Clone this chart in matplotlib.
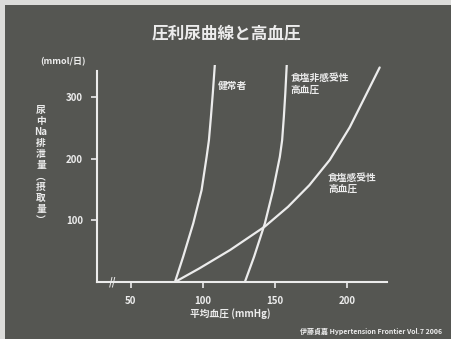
import matplotlib.pyplot as plt
from matplotlib.patches import Rectangle

plt.rcParams['font.family'] = ['Noto Sans CJK JP', 'DejaVu Sans']

# mean blood pressure (mmHg) vs urinary Na excretion (mmol/day)
y_vals = [0, 41, 95, 149, 203, 230, 268, 306, 352]
normal_x = [80.6, 86.3, 93.3, 99.1, 102.6, 104.2, 105.6, 106.9, 108.3]
insens_x = [129.2, 135.6, 143.1, 148.8, 153.5, 155.1, 156.3, 157.3, 158.3]
sens_x = [80.6, 97.5, 119.0, 143.1, 159.2, 174.0, 188.2, 202.1, 213.9, 222.9]
sens_y = [0, 22, 52, 90, 122, 157, 198, 251, 306, 348]

xticks = [50, 100, 150, 200]
yticks = [100, 200, 300]

bg = '#555652'
fg = '#ececec'

fig = plt.figure(figsize=(4.51, 3.39), dpi=100)
fig.patch.set_facecolor('#dcdcda')
fig.patches.append(Rectangle((5/451, 0), 446/451, 1-5/339, transform=fig.transFigure,
                             facecolor=bg, edgecolor='none', zorder=-10))

ax = fig.add_axes([97/451, 1-282/339, 290/451, 217/339])
ax.set_facecolor('none')
ax.set_xlim(26.4, 228)
ax.set_ylim(0, 352)

lw = 1.6
ax.plot(normal_x, y_vals, color=fg, lw=lw, solid_capstyle='round', solid_joinstyle='round')
ax.plot(insens_x, y_vals, color=fg, lw=lw, solid_capstyle='round', solid_joinstyle='round')
ax.plot(sens_x, sens_y, color=fg, lw=lw, solid_capstyle='round', solid_joinstyle='round')

for s in ['top', 'right']:
    ax.spines[s].set_visible(False)
for s in ['left', 'bottom']:
    ax.spines[s].set_color(fg)
    ax.spines[s].set_linewidth(1.5)
ax.spines['left'].set_bounds(0, 343)

ax.set_xticks(xticks)
ax.set_yticks(yticks)
ax.tick_params(colors=fg, labelsize=7, length=4, width=1.2, pad=6)
for lab in ax.get_xticklabels() + ax.get_yticklabels():
    lab.set_fontweight('bold')

# axis break mark
ax.text(37.5, 0, '//', color=fg, fontsize=7, ha='center', va='center',
        fontweight='bold', clip_on=False)

ax.text(119, -52, '平均血圧 (mmHg)', color=fg, fontsize=7, fontweight='bold',
        ha='center', va='center', clip_on=False)

fig.text(226/451, 1-33/339, '圧利尿曲線と高血圧', color=fg, fontsize=12,
         fontweight='bold', ha='center', va='center')
fig.text(63/451, 1-62/339, '(mmol/日)', color=fg, fontsize=6.5, fontweight='bold',
         ha='center', va='center')
ylab = '\n'.join(['尿', '中', 'Na', '排', '泄', '量', '︵', '摂', '取', '量', '︶'])
fig.text(41/451, 1-165/339, ylab, color=fg, fontsize=7, fontweight='bold',
         ha='center', va='center', linespacing=1.12)

ax.text(110.5, 318, '健常者', color=fg, fontsize=7, fontweight='bold', va='center')
ax.text(161, 322, '食塩非感受性\n高血圧', color=fg, fontsize=7, fontweight='bold',
        va='center', linespacing=1.2)
ax.text(187, 160, '食塩感受性\n高血圧', color=fg, fontsize=7, fontweight='bold',
        va='center', linespacing=1.2)

fig.text(442/451, 1-331/339, '伊藤貞嘉 Hypertension Frontier Vol.7 2006', color=fg,
         fontsize=5, fontweight='bold', ha='right', va='center')

fig.savefig('out.png', dpi=100, facecolor=fig.get_facecolor())
